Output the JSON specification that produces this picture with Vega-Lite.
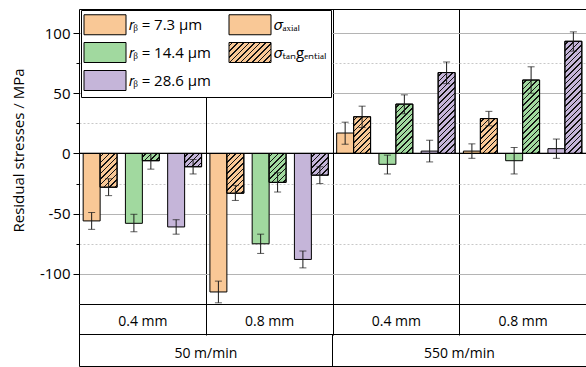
{
  "$schema": "https://vega.github.io/schema/vega-lite/v6.json",
  "width": 507,
  "height": 295,
  "autosize": {"type": "none"},
  "padding": {"left": 79, "top": 9, "right": 0, "bottom": 63},
  "background": "white",
  "config": {
    "view": {"stroke": null},
    "font": "Open Sans",
    "axis": {"labelFont": "Open Sans", "titleFont": "Open Sans", "labelColor": "black", "titleColor": "black"},
    "legend": {"labelFont": "Open Sans", "labelColor": "black"}
  },
  "params": [
    {"name": "hatch", "value": [
      {"offset":0.02,"color":"rgba(0,0,0,0)"},{"offset":0.02,"color":"#111"},{"offset":0.031,"color":"#111"},{"offset":0.031,"color":"rgba(0,0,0,0)"},
      {"offset":0.06,"color":"rgba(0,0,0,0)"},{"offset":0.06,"color":"#111"},{"offset":0.071,"color":"#111"},{"offset":0.071,"color":"rgba(0,0,0,0)"},
      {"offset":0.10,"color":"rgba(0,0,0,0)"},{"offset":0.10,"color":"#111"},{"offset":0.111,"color":"#111"},{"offset":0.111,"color":"rgba(0,0,0,0)"},
      {"offset":0.14,"color":"rgba(0,0,0,0)"},{"offset":0.14,"color":"#111"},{"offset":0.151,"color":"#111"},{"offset":0.151,"color":"rgba(0,0,0,0)"},
      {"offset":0.18,"color":"rgba(0,0,0,0)"},{"offset":0.18,"color":"#111"},{"offset":0.191,"color":"#111"},{"offset":0.191,"color":"rgba(0,0,0,0)"},
      {"offset":0.22,"color":"rgba(0,0,0,0)"},{"offset":0.22,"color":"#111"},{"offset":0.231,"color":"#111"},{"offset":0.231,"color":"rgba(0,0,0,0)"},
      {"offset":0.26,"color":"rgba(0,0,0,0)"},{"offset":0.26,"color":"#111"},{"offset":0.271,"color":"#111"},{"offset":0.271,"color":"rgba(0,0,0,0)"},
      {"offset":0.30,"color":"rgba(0,0,0,0)"},{"offset":0.30,"color":"#111"},{"offset":0.311,"color":"#111"},{"offset":0.311,"color":"rgba(0,0,0,0)"},
      {"offset":0.34,"color":"rgba(0,0,0,0)"},{"offset":0.34,"color":"#111"},{"offset":0.351,"color":"#111"},{"offset":0.351,"color":"rgba(0,0,0,0)"},
      {"offset":0.38,"color":"rgba(0,0,0,0)"},{"offset":0.38,"color":"#111"},{"offset":0.391,"color":"#111"},{"offset":0.391,"color":"rgba(0,0,0,0)"},
      {"offset":0.42,"color":"rgba(0,0,0,0)"},{"offset":0.42,"color":"#111"},{"offset":0.431,"color":"#111"},{"offset":0.431,"color":"rgba(0,0,0,0)"},
      {"offset":0.46,"color":"rgba(0,0,0,0)"},{"offset":0.46,"color":"#111"},{"offset":0.471,"color":"#111"},{"offset":0.471,"color":"rgba(0,0,0,0)"},
      {"offset":0.50,"color":"rgba(0,0,0,0)"},{"offset":0.50,"color":"#111"},{"offset":0.511,"color":"#111"},{"offset":0.511,"color":"rgba(0,0,0,0)"},
      {"offset":0.54,"color":"rgba(0,0,0,0)"},{"offset":0.54,"color":"#111"},{"offset":0.551,"color":"#111"},{"offset":0.551,"color":"rgba(0,0,0,0)"},
      {"offset":0.58,"color":"rgba(0,0,0,0)"},{"offset":0.58,"color":"#111"},{"offset":0.591,"color":"#111"},{"offset":0.591,"color":"rgba(0,0,0,0)"},
      {"offset":0.62,"color":"rgba(0,0,0,0)"},{"offset":0.62,"color":"#111"},{"offset":0.631,"color":"#111"},{"offset":0.631,"color":"rgba(0,0,0,0)"},
      {"offset":0.66,"color":"rgba(0,0,0,0)"},{"offset":0.66,"color":"#111"},{"offset":0.671,"color":"#111"},{"offset":0.671,"color":"rgba(0,0,0,0)"},
      {"offset":0.70,"color":"rgba(0,0,0,0)"},{"offset":0.70,"color":"#111"},{"offset":0.711,"color":"#111"},{"offset":0.711,"color":"rgba(0,0,0,0)"},
      {"offset":0.74,"color":"rgba(0,0,0,0)"},{"offset":0.74,"color":"#111"},{"offset":0.751,"color":"#111"},{"offset":0.751,"color":"rgba(0,0,0,0)"},
      {"offset":0.78,"color":"rgba(0,0,0,0)"},{"offset":0.78,"color":"#111"},{"offset":0.791,"color":"#111"},{"offset":0.791,"color":"rgba(0,0,0,0)"},
      {"offset":0.82,"color":"rgba(0,0,0,0)"},{"offset":0.82,"color":"#111"},{"offset":0.831,"color":"#111"},{"offset":0.831,"color":"rgba(0,0,0,0)"},
      {"offset":0.86,"color":"rgba(0,0,0,0)"},{"offset":0.86,"color":"#111"},{"offset":0.871,"color":"#111"},{"offset":0.871,"color":"rgba(0,0,0,0)"},
      {"offset":0.90,"color":"rgba(0,0,0,0)"},{"offset":0.90,"color":"#111"},{"offset":0.911,"color":"#111"},{"offset":0.911,"color":"rgba(0,0,0,0)"},
      {"offset":0.94,"color":"rgba(0,0,0,0)"},{"offset":0.94,"color":"#111"},{"offset":0.951,"color":"#111"},{"offset":0.951,"color":"rgba(0,0,0,0)"},
      {"offset":0.98,"color":"rgba(0,0,0,0)"},{"offset":0.98,"color":"#111"},{"offset":0.991,"color":"#111"},{"offset":0.991,"color":"rgba(0,0,0,0)"}
    ]},
    {"name": "hatchLegend", "value": [
      {"offset":0.02,"color":"#f9c896"},{"offset":0.02,"color":"#111"},{"offset":0.031,"color":"#111"},{"offset":0.031,"color":"#f9c896"},
      {"offset":0.06,"color":"#f9c896"},{"offset":0.06,"color":"#111"},{"offset":0.071,"color":"#111"},{"offset":0.071,"color":"#f9c896"},
      {"offset":0.10,"color":"#f9c896"},{"offset":0.10,"color":"#111"},{"offset":0.111,"color":"#111"},{"offset":0.111,"color":"#f9c896"},
      {"offset":0.14,"color":"#f9c896"},{"offset":0.14,"color":"#111"},{"offset":0.151,"color":"#111"},{"offset":0.151,"color":"#f9c896"},
      {"offset":0.18,"color":"#f9c896"},{"offset":0.18,"color":"#111"},{"offset":0.191,"color":"#111"},{"offset":0.191,"color":"#f9c896"},
      {"offset":0.22,"color":"#f9c896"},{"offset":0.22,"color":"#111"},{"offset":0.231,"color":"#111"},{"offset":0.231,"color":"#f9c896"},
      {"offset":0.26,"color":"#f9c896"},{"offset":0.26,"color":"#111"},{"offset":0.271,"color":"#111"},{"offset":0.271,"color":"#f9c896"},
      {"offset":0.30,"color":"#f9c896"},{"offset":0.30,"color":"#111"},{"offset":0.311,"color":"#111"},{"offset":0.311,"color":"#f9c896"},
      {"offset":0.34,"color":"#f9c896"},{"offset":0.34,"color":"#111"},{"offset":0.351,"color":"#111"},{"offset":0.351,"color":"#f9c896"},
      {"offset":0.38,"color":"#f9c896"},{"offset":0.38,"color":"#111"},{"offset":0.391,"color":"#111"},{"offset":0.391,"color":"#f9c896"},
      {"offset":0.42,"color":"#f9c896"},{"offset":0.42,"color":"#111"},{"offset":0.431,"color":"#111"},{"offset":0.431,"color":"#f9c896"},
      {"offset":0.46,"color":"#f9c896"},{"offset":0.46,"color":"#111"},{"offset":0.471,"color":"#111"},{"offset":0.471,"color":"#f9c896"},
      {"offset":0.50,"color":"#f9c896"},{"offset":0.50,"color":"#111"},{"offset":0.511,"color":"#111"},{"offset":0.511,"color":"#f9c896"}
    ]}
  ],
  "data": {"values": [
    {"speed": "50 m/min", "depth": "0.4 mm", "radius": "7.3", "stress": "axial", "value": -56, "lo": -63, "hi": -49},
    {"speed": "50 m/min", "depth": "0.4 mm", "radius": "7.3", "stress": "tangential", "value": -28, "lo": -35, "hi": -21},
    {"speed": "50 m/min", "depth": "0.4 mm", "radius": "14.4", "stress": "axial", "value": -58, "lo": -65, "hi": -50.5},
    {"speed": "50 m/min", "depth": "0.4 mm", "radius": "14.4", "stress": "tangential", "value": -6, "lo": -13, "hi": 0},
    {"speed": "50 m/min", "depth": "0.4 mm", "radius": "28.6", "stress": "axial", "value": -61, "lo": -67, "hi": -55},
    {"speed": "50 m/min", "depth": "0.4 mm", "radius": "28.6", "stress": "tangential", "value": -11, "lo": -17, "hi": -5},
    {"speed": "50 m/min", "depth": "0.8 mm", "radius": "7.3", "stress": "axial", "value": -115, "lo": -124, "hi": -106},
    {"speed": "50 m/min", "depth": "0.8 mm", "radius": "7.3", "stress": "tangential", "value": -33, "lo": -39, "hi": -26.5},
    {"speed": "50 m/min", "depth": "0.8 mm", "radius": "14.4", "stress": "axial", "value": -75, "lo": -83, "hi": -67},
    {"speed": "50 m/min", "depth": "0.8 mm", "radius": "14.4", "stress": "tangential", "value": -24, "lo": -32, "hi": -16},
    {"speed": "50 m/min", "depth": "0.8 mm", "radius": "28.6", "stress": "axial", "value": -88, "lo": -95, "hi": -81},
    {"speed": "50 m/min", "depth": "0.8 mm", "radius": "28.6", "stress": "tangential", "value": -18, "lo": -25, "hi": -11},
    {"speed": "550 m/min", "depth": "0.4 mm", "radius": "7.3", "stress": "axial", "value": 17, "lo": 7.7, "hi": 26},
    {"speed": "550 m/min", "depth": "0.4 mm", "radius": "7.3", "stress": "tangential", "value": 30.5, "lo": 21.6, "hi": 39.3},
    {"speed": "550 m/min", "depth": "0.4 mm", "radius": "14.4", "stress": "axial", "value": -9, "lo": -17, "hi": -1.4},
    {"speed": "550 m/min", "depth": "0.4 mm", "radius": "14.4", "stress": "tangential", "value": 41, "lo": 33, "hi": 48.7},
    {"speed": "550 m/min", "depth": "0.4 mm", "radius": "28.6", "stress": "axial", "value": 2, "lo": -7, "hi": 11},
    {"speed": "550 m/min", "depth": "0.4 mm", "radius": "28.6", "stress": "tangential", "value": 67.2, "lo": 58, "hi": 76},
    {"speed": "550 m/min", "depth": "0.8 mm", "radius": "7.3", "stress": "axial", "value": 2, "lo": -4, "hi": 8},
    {"speed": "550 m/min", "depth": "0.8 mm", "radius": "7.3", "stress": "tangential", "value": 29, "lo": 23, "hi": 35},
    {"speed": "550 m/min", "depth": "0.8 mm", "radius": "14.4", "stress": "axial", "value": -6, "lo": -17, "hi": 5},
    {"speed": "550 m/min", "depth": "0.8 mm", "radius": "14.4", "stress": "tangential", "value": 61, "lo": 50, "hi": 72},
    {"speed": "550 m/min", "depth": "0.8 mm", "radius": "28.6", "stress": "axial", "value": 4, "lo": -4, "hi": 12},
    {"speed": "550 m/min", "depth": "0.8 mm", "radius": "28.6", "stress": "tangential", "value": 93.2, "lo": 85, "hi": 101}
  ]},
  "transform": [{"calculate": "datum.speed + '|' + datum.depth + '|' + datum.radius", "as": "cond"}],
  "layer": [
    {
      "mark": {"type": "bar", "stroke": "black", "strokeWidth": 1},
      "encoding": {
        "x": {"field": "cond", "type": "nominal", "sort": null,
          "scale": {"domain": ["50 m/min|0.4 mm|7.3","50 m/min|0.4 mm|14.4","50 m/min|0.4 mm|28.6","50 m/min|0.8 mm|7.3","50 m/min|0.8 mm|14.4","50 m/min|0.8 mm|28.6","550 m/min|0.4 mm|7.3","550 m/min|0.4 mm|14.4","550 m/min|0.4 mm|28.6","550 m/min|0.8 mm|7.3","550 m/min|0.8 mm|14.4","550 m/min|0.8 mm|28.6"], "paddingInner": 0, "paddingOuter": 0},
          "axis": {
            "orient": "bottom", "title": null, "domain": true, "domainColor": "black", "domainWidth": 1,
            "tickBand": "extent", "ticks": true, "tickColor": "black", "tickWidth": 1, "tickSize": 31,
            "tickOpacity": {"condition": {"test": "datum.extra || datum.value == '50 m/min|0.4 mm|28.6' || datum.value == '50 m/min|0.8 mm|28.6' || datum.value == '550 m/min|0.4 mm|28.6'", "value": 1}, "value": 0},
            "grid": true, "gridColor": "black", "gridWidth": 1,
            "gridOpacity": {"condition": {"test": "datum.value == '50 m/min|0.4 mm|28.6' || datum.value == '50 m/min|0.8 mm|28.6' || datum.value == '550 m/min|0.4 mm|28.6'", "value": 1}, "value": 0},
            "labelExpr": "datum.value == '50 m/min|0.4 mm|14.4' || datum.value == '550 m/min|0.4 mm|14.4' ? '0.4 mm' : (datum.value == '50 m/min|0.8 mm|14.4' || datum.value == '550 m/min|0.8 mm|14.4' ? '0.8 mm' : '')",
            "labelAngle": 0, "labelFontSize": 14, "labelPadding": -21, "labelOverlap": false, "labelBound": false
          }
        },
        "xOffset": {"field": "stress", "type": "nominal", "scale": {"domain": ["axial", "tangential"], "paddingInner": 0, "paddingOuter": 0.245}},
        "y": {"field": "value", "type": "quantitative",
          "scale": {"domain": [-125, 120], "nice": false, "zero": false},
          "axis": {
            "orient": "left",
            "title": "Residual stresses / MPa", "titleFontSize": 15, "titleFontWeight": "normal", "titlePadding": 13, "titleY": 141,
            "values": [-100, -50, 0, 50, 100],
            "labelExpr": "'' + datum.value",
            "labelFontSize": 15, "labelPadding": 3,
            "domainColor": "black", "tickColor": "black", "tickSize": 6,
            "grid": true, "gridColor": "#b4b4b4"
          }
        },
        "fill": {"field": "radius", "type": "nominal",
          "scale": {"domain": ["7.3", "14.4", "28.6", "axial", "tangential"],
            "range": ["#f9c896", "#a1d99f", "#c5b5d9", "#f9c896", {"expr": "{gradient: 'linear', x1: 0, y1: 0, x2: 2.717, y2: 1.294, stops: hatchLegend}"}]},
          "legend": {
            "orient": "none", "legendX": 2, "legendY": 1, "title": null, "padding": 4,
            "fillColor": "white", "strokeColor": "black",
            "columns": 2, "columnPadding": 16, "rowPadding": 3,
            "symbolType": "M-2.1,-1H2.1V1H-2.1Z", "symbolSize": 400, "symbolStrokeColor": "black", "symbolStrokeWidth": 1, "symbolOpacity": 1,
            "symbolOffset": 9.5, "labelOffset": 13, "labelFontSize": 15, "labelLimit": 500,
            "labelExpr": "datum.value == 'axial' ? '𝜎ₐₓᵢₐₗ' : (datum.value == 'tangential' ? '𝜎ₜₐₙgₑₙₜᵢₐₗ' : '𝑟ᵦ = ' + datum.label + ' µm')"
          }
        }
      }
    },
    {
      "transform": [{"filter": "datum.stress == 'tangential'"}],
      "mark": {"type": "bar", "stroke": "black", "strokeWidth": 1,
        "fill": {"expr": "{gradient: 'linear', x1: 0, y1: 0, x2: 140 / bandwidth('xOffset') / (1 + pow((scale('y', datum.value) - scale('y', 0)) / bandwidth('xOffset'), 2)), y2: 140 * abs(scale('y', datum.value) - scale('y', 0)) / pow(bandwidth('xOffset'), 2) / (1 + pow((scale('y', datum.value) - scale('y', 0)) / bandwidth('xOffset'), 2)), stops: hatch}"}},
      "encoding": {
        "x": {"field": "cond", "type": "nominal", "sort": null, "axis": null},
        "xOffset": {"field": "stress", "type": "nominal"},
        "y": {"field": "value", "type": "quantitative",
          "axis": {"orient": "left", "title": null, "values": [-75, -25, 25, 75], "labels": false, "domain": false,
            "ticks": true, "tickSize": 3, "tickColor": "black",
            "grid": true, "gridColor": "#c8c8c8", "gridDash": [2, 2]}}
      }
    },
    {
      "mark": {"type": "rule", "color": "black", "strokeWidth": 1},
      "encoding": {"y": {"datum": 0, "type": "quantitative", "axis": null}}
    },
    {
      "mark": {"type": "rule", "color": "#1a1a1a", "strokeWidth": 1},
      "encoding": {
        "x": {"field": "cond", "type": "nominal", "sort": null,
          "axis": {"orient": "bottom", "offset": 30, "title": null, "domainColor": "black", "domainWidth": 1,
            "ticks": true, "tickSize": 32, "tickColor": "black", "tickWidth": 1,
            "tickOpacity": {"condition": {"test": "datum.value == '50 m/min|0.4 mm|7.3' || datum.value == '550 m/min|0.4 mm|7.3'", "value": 1}, "value": 0},
            "grid": false,
            "bandPosition": 0, "labelAngle": 0, "labelFontSize": 14, "labelPadding": -20, "labelOffset": -21, "labelOverlap": false, "labelBound": false,
            "labelExpr": "datum.value == '50 m/min|0.8 mm|7.3' ? '50 m/min' : (datum.value == '550 m/min|0.8 mm|7.3' ? '550 m/min' : '')"}},
        "xOffset": {"field": "stress", "type": "nominal"},
        "y": {"field": "lo", "type": "quantitative", "axis": null},
        "y2": {"field": "hi"}
      }
    },
    {
      "mark": {"type": "tick", "orient": "horizontal", "color": "#1a1a1a", "thickness": 1, "size": 7},
      "encoding": {
        "x": {"field": "cond", "type": "nominal", "sort": null,
          "axis": {"orient": "bottom", "offset": 62, "title": null, "domainColor": "black", "domainWidth": 1, "ticks": false, "labels": false, "grid": false}},
        "xOffset": {"field": "stress", "type": "nominal"},
        "y": {"field": "lo", "type": "quantitative", "axis": null}
      }
    },
    {
      "mark": {"type": "tick", "orient": "horizontal", "color": "#1a1a1a", "thickness": 1, "size": 7},
      "encoding": {
        "x": {"field": "cond", "type": "nominal", "sort": null,
          "axis": {"orient": "top", "title": null, "domainColor": "black", "domainWidth": 1, "ticks": false, "labels": false, "grid": false}},
        "xOffset": {"field": "stress", "type": "nominal"},
        "y": {"field": "hi", "type": "quantitative", "axis": null}
      }
    }
  ],
  "resolve": {"axis": {"x": "independent", "y": "independent"}}
}
